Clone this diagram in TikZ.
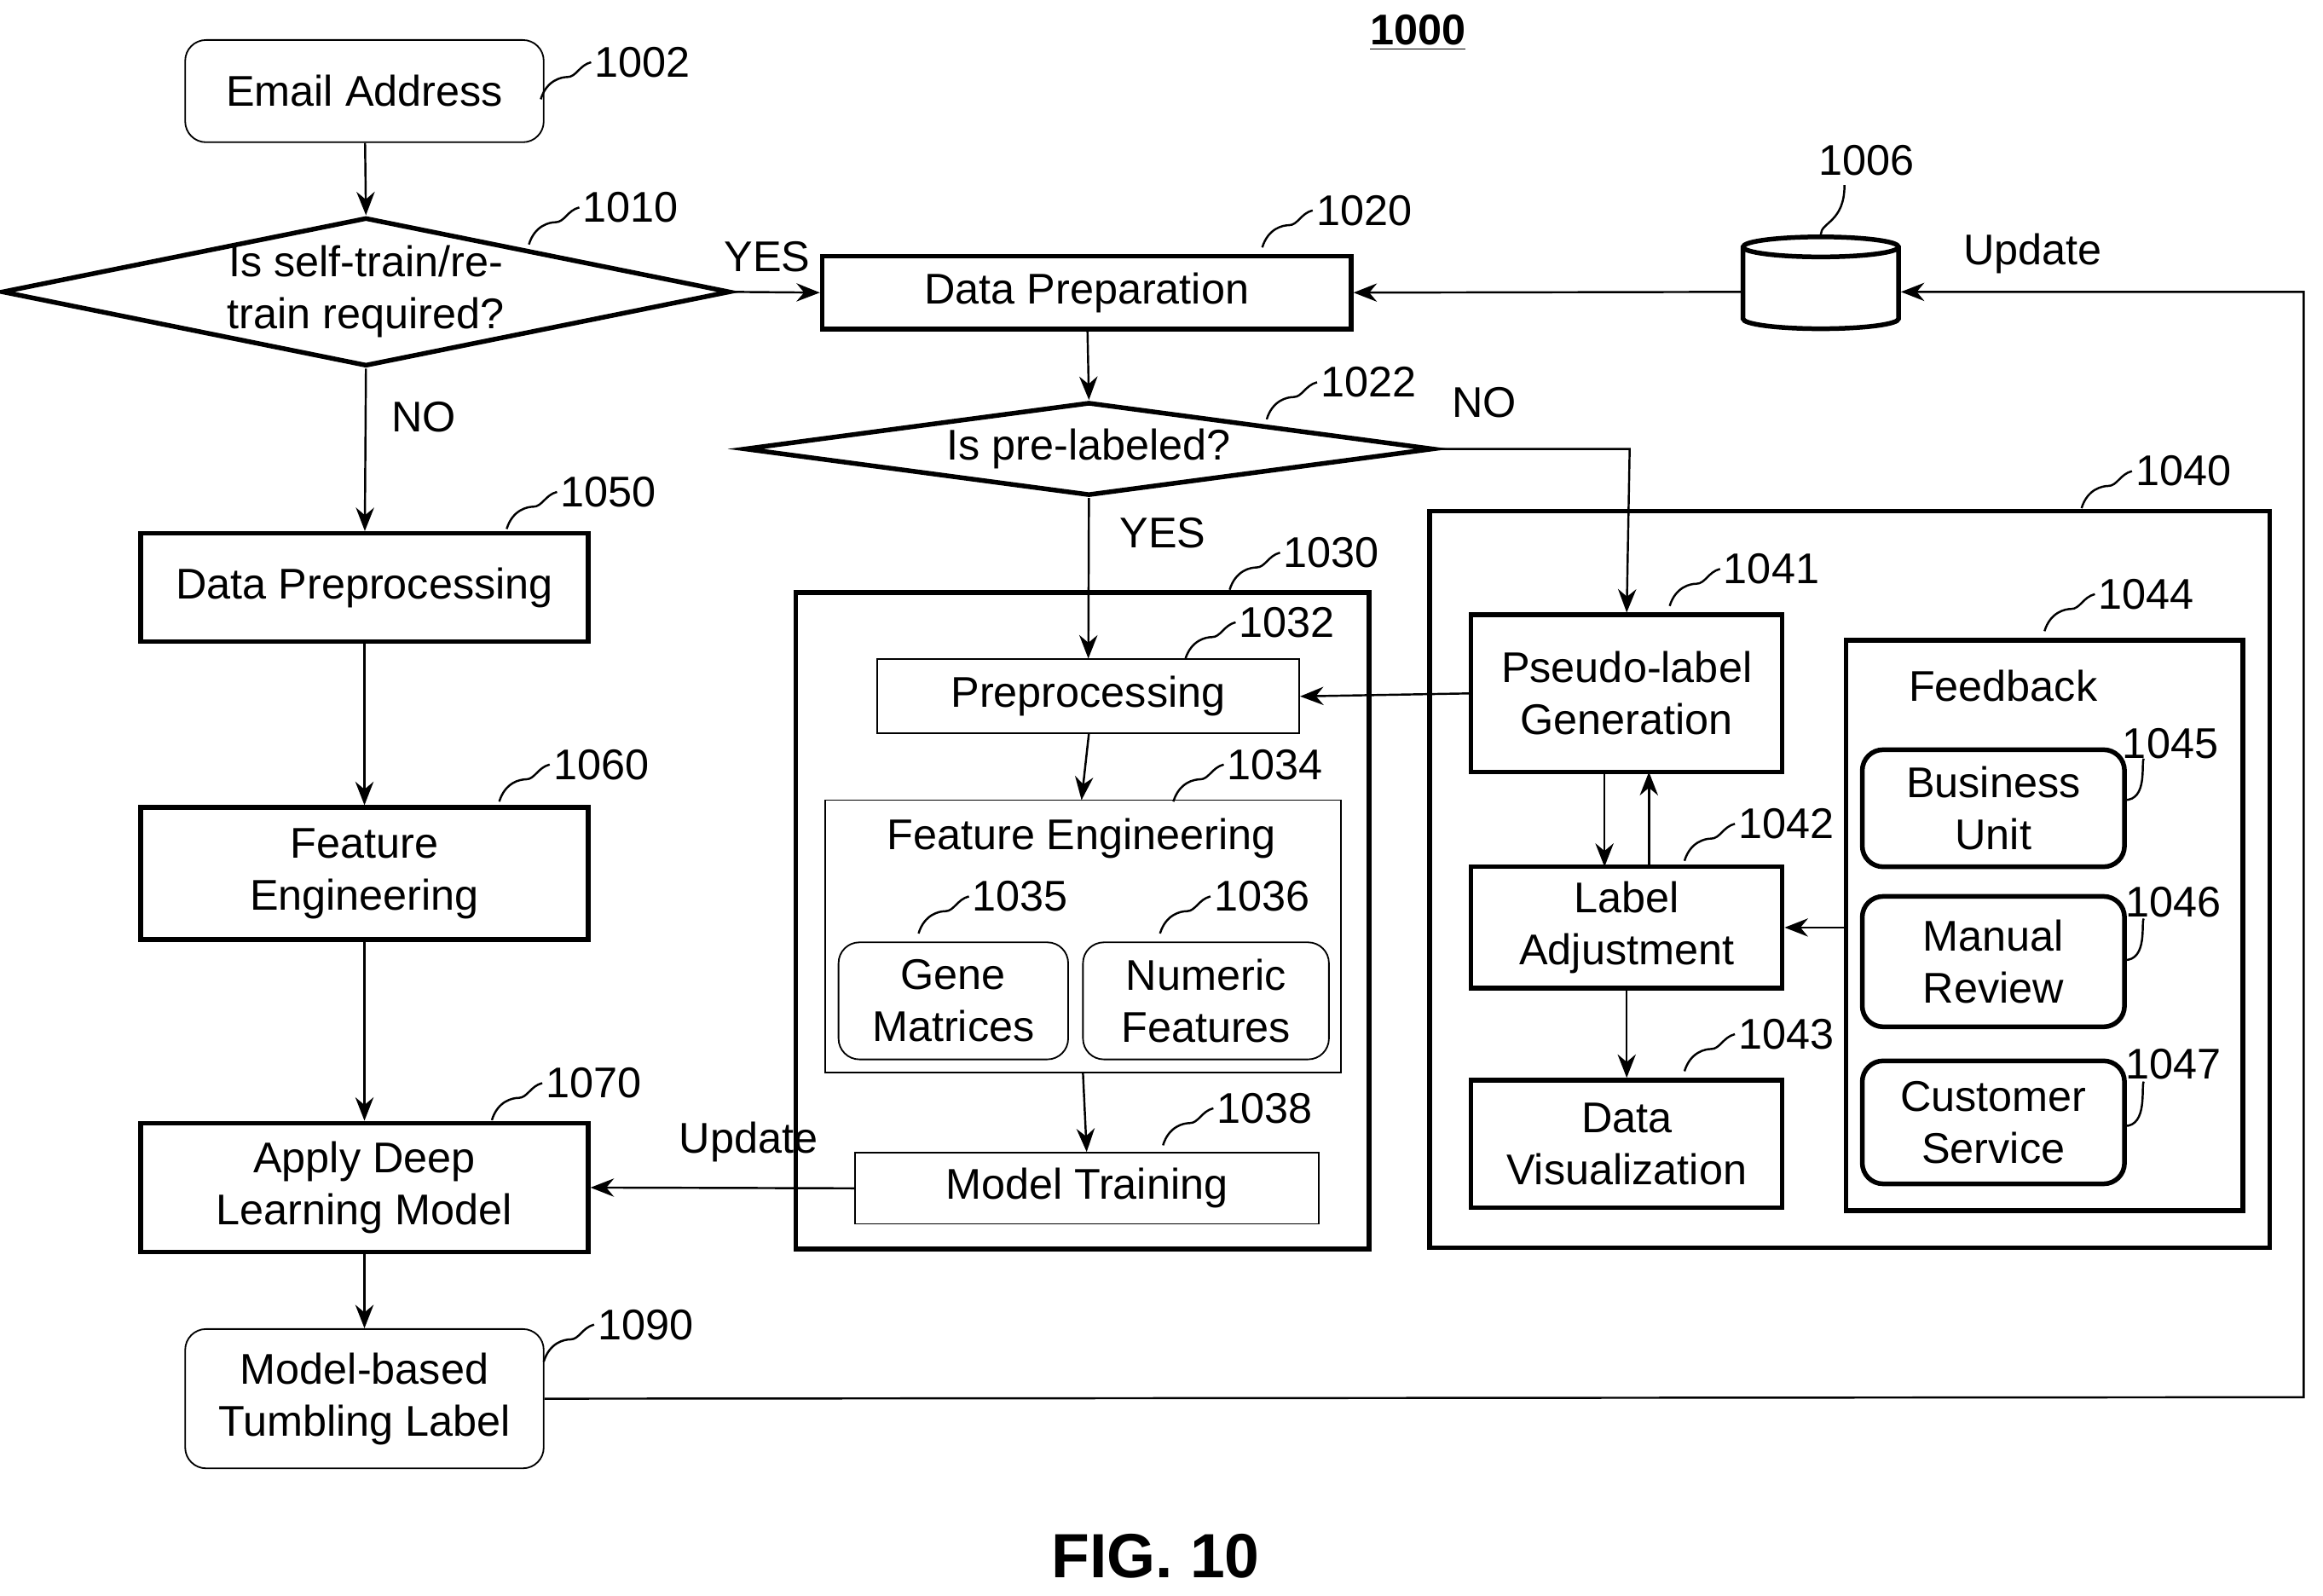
\documentclass[tikz,border=0pt]{standalone}
\usepackage{fontspec}
\setmainfont{Liberation Sans}
\usetikzlibrary{shapes.geometric,arrows.meta}
\begin{document}
\fontsize{16.5}{20}\selectfont
\begin{tikzpicture}[x=0.02cm,y=-0.02cm,
  every node/.append style={align=center},
  >={Stealth[length=9pt,width=7pt]},
  bx/.style={draw,line width=1.8pt,inner sep=0pt},
  tn/.style={draw,line width=0.6pt,inner sep=0pt},
  rn/.style={draw,line width=0.6pt,rounded corners=8pt,inner sep=0pt},
  rb/.style={draw,line width=1.8pt,rounded corners=8pt,inner sep=0pt},
  dm/.style={draw,line width=1.8pt,diamond,aspect=4.9,inner sep=0pt},
  ln/.style={line width=0.8pt},
  tx/.style={inner sep=1pt}]
\useasboundingbox (0,0) rectangle (1568,1077);
\newcommand{\bxat}[6]{\node[#1,minimum width={(#4-#2)*0.02cm},minimum height={(#5-#3)*0.02cm}] (#6) at ({(#2+#4)/2},{(#3+#5)/2}) {};}
\newcommand{\lbl}[4]{\draw[ln] (#1-70,#2+25) .. controls (#1-66,#2+12) and (#1-56,#2+10) .. (#1-52,#2+10) .. controls (#1-46,#2+10) and (#1-44,#2+2) .. (#1-36,#2) node[tx,anchor=west] (#4) {#3};}
\node[font=\bfseries] (t) at (957,22) {\underline{1000}};
\node[font=\fontsize{24}{28}\selectfont\bfseries] (fig) at (780,1050) {FIG. 10};
% left column
\bxat{rn}{125}{27}{367}{96}{email} \node at (email) {Email Address};
\node[dm,minimum width={465*0.02cm},minimum height={95*0.02cm}] (d1) at (247,197) {Is self-train/re-\\train required?};
\bxat{bx}{95}{360}{397}{433}{dpp} \node at (dpp) {Data Preprocessing};
\bxat{bx}{95}{545}{397}{634}{fe} \node at (fe) {Feature\\Engineering};
\bxat{bx}{95}{758}{397}{845}{adl} \node at (adl) {Apply Deep\\Learning Model};
\bxat{rn}{125}{897}{367}{991}{mtl} \node at (mtl) {Model-based\\Tumbling Label};
\lbl{435}{42}{1002}{l1002}
\lbl{427}{140}{1010}{l1010}
\lbl{412}{332}{1050}{l1050}
\lbl{407}{516}{1060}{l1060}
\lbl{402}{731}{1070}{l1070}
\lbl{437}{894}{1090}{l1090}
% middle
\bxat{bx}{555}{173}{912}{222}{dprep} \node at (dprep) {Data Preparation};
\lbl{922}{142}{1020}{l1020}
\node[dm,minimum width={465*0.02cm},minimum height={63*0.02cm},aspect=7.4] (d2) at (735,303) {Is pre-labeled?};
\lbl{925}{258}{1022}{l1022}
\node[draw,line width=1.8pt,cylinder,shape border rotate=90,aspect=0.7,minimum width={105*0.02cm},minimum height={62*0.02cm}] (db) at (1229,197) {};
\node (l1006) at (1260,108) {1006};
\draw[ln] (db.north) .. controls (1229,150) and (1245,150) .. (1245,125);
\bxat{bx}{537}{400}{924}{843}{g30}
\lbl{900}{373}{1030}{l1030}
\bxat{tn}{592}{445}{877}{495}{pre} \node at (pre) {Preprocessing};
\lbl{870}{420}{1032}{l1032}
\bxat{tn}{557}{540}{905}{724}{fec} \node (fet) at (730,566) {Feature Engineering};
\lbl{862}{516}{1034}{l1034}
\bxat{rn}{566}{636}{721}{715}{gm} \node at (gm) {Gene\\Matrices};
\bxat{rn}{731}{636}{897}{715}{nf} \node at (nf) {Numeric\\Features};
\lbl{690}{605}{1035}{l1035}
\lbl{853}{605}{1036}{l1036}
\bxat{tn}{577}{778}{890}{826}{mt} \node at (mt) {Model Training};
\lbl{855}{748}{1038}{l1038}
% right
\bxat{bx}{965}{345}{1532}{842}{g40}
\lbl{1475}{318}{1040}{l1040}
\bxat{bx}{993}{415}{1203}{521}{plg} \node at (plg) {Pseudo-label\\Generation};
\lbl{1197}{384}{1041}{l1041}
\bxat{bx}{993}{585}{1203}{667}{la} \node at (la) {Label\\Adjustment};
\lbl{1207}{556}{1042}{l1042}
\bxat{bx}{993}{729}{1203}{815}{dv} \node at (dv) {Data\\Visualization};
\lbl{1207}{698}{1043}{l1043}
\bxat{bx}{1246}{432}{1514}{817}{fb} \node (fbt) at (1352,463) {Feedback};
\lbl{1450}{401}{1044}{l1044}
\bxat{rb}{1257}{506}{1434}{585}{bu} \node at (bu) {Business\\Unit};
\bxat{rb}{1257}{605}{1434}{693}{mr} \node at (mr) {Manual\\Review};
\bxat{rb}{1257}{716}{1434}{799}{cs} \node at (cs) {Customer\\Service};
\node (l1045) at (1465,502) {1045};
\node (l1046) at (1467,609) {1046};
\node (l1047) at (1467,718) {1047};
\draw[ln] (1434,540) .. controls (1450,540) and (1445,515) .. (1447,512);
\draw[ln] (1434,648) .. controls (1450,648) and (1445,622) .. (1447,620);
\draw[ln] (1434,760) .. controls (1450,760) and (1445,733) .. (1447,730);
% connectors
\draw[ln,->] (email) -- (d1.north);
\draw[ln,->] (d1.south) -- (dpp) node[pos=0.3,right=4pt] {NO};
\draw[ln,->] (d1.east) -- (dprep.west) node[pos=0.4,above=2pt] {YES};
\draw[ln,->] (dpp) -- (fe);
\draw[ln,->] (fe) -- (adl);
\draw[ln,->] (adl) -- (mtl);
\draw[ln,->] (dprep) -- (d2.north);
\draw[ln,->] (d2.south) -- (pre) node[pos=0.22,right=6pt] {YES};
\draw[ln,->] (d2.east) -- (1100,303) node[pos=0.25,above=6pt] {NO} -- (plg.north);
\draw[ln,->] (db.west) -- (dprep.east);
\draw[ln,->] (mtl.east) -- (1555,943) -- (1555,197) -- (db.east);
\node (upd1) at (1372,171) {Update};
\draw[ln,->] (735,495) -- (730,540);
\draw[ln,->] (fec.south) -- (mt.north);
\draw[ln,->] (mt.west) -- (adl.east) node[pos=0.4,above=4pt] {Update};
\draw[ln,->] (plg.west) -- (pre.east);
\draw[ln,->] (1083,521) -- (1083,585);
\draw[ln,->] (1113,585) -- (1113,521);
\draw[ln,->] (la) -- (dv);
\draw[ln,->] (fb.west|-la) -- (la.east);
\end{tikzpicture}
\end{document}
